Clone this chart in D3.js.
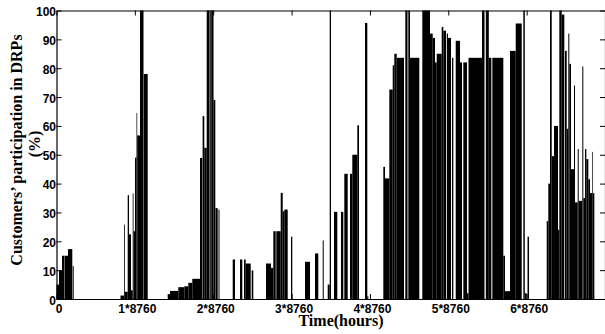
<!DOCTYPE html>
<html>
<head>
<meta charset="utf-8">
<script src="https://cdn.jsdelivr.net/npm/d3@7/dist/d3.min.js"></script>
<style>
  body { margin: 0; background: #fff; }
  svg { display: block; }
</style>
</head>
<body>
<svg id="chart" width="605" height="334"></svg>
<script>
// bars: start hour, end hour, participation (%)
var barStart = [
    0, 280, 615, 883, 1286, 1811,
    7155, 7547, 7636, 7960, 8106, 8329, 8519, 8609, 8776, 8944, 9022, 9335, 9760,
    12432, 12689, 13617, 14288, 14735, 15182, 16043, 16334, 16524, 16792, 17094, 17295, 17553, 17776, 18112,
    19699, 20515, 20963, 21153, 21823,
    23422, 23981, 24238, 24574, 25066, 25289, 25468, 26217, 27782, 28900, 29761, 30320, 30544, 31025, 31807, 32176, 32813, 33070, 33629, 34490, 34747,
    36536, 36726, 37207, 37587, 37766, 38034, 38996, 39331, 39521, 40896, 41757, 42059, 42316, 42506, 43065, 43244, 43636, 43770, 44217, 44631, 45111, 45480, 45894, 46062, 47571, 47996, 48331, 48722, 49952, 50142, 50701, 51339, 52189, 52378, 52658,
    54804, 54983, 55173, 55363, 55621, 56068, 56213, 56481, 56850, 57040, 57219, 57331, 57521, 57856, 57968, 58270, 58382, 58784, 58896, 59087, 59232, 59455, 59645, 59902, 59980
];
var barEnd = [
    280, 615, 839, 1286, 1766, 1923,
    7547, 7636, 7960, 8106, 8329, 8519, 8609, 8776, 8944, 9022, 9335, 9727, 10196,
    12689, 13617, 14288, 14735, 15182, 16043, 16300, 16524, 16792, 17050, 17251, 17553, 17754, 18022, 18223,
    19956, 20772, 21153, 21712, 22002,
    23981, 24238, 24507, 25066, 25289, 25468, 25848, 26362, 28341, 29269, 29873, 30544, 30689, 31393, 32064, 32556, 33070, 33629, 33819, 34747, 34859,
    36726, 37207, 37587, 37766, 38034, 38851, 39242, 39521, 40561, 41757, 42059, 42316, 42506, 43065, 43244, 43546, 43770, 44105, 44362, 45111, 45335, 45894, 46062, 47571, 47850, 48331, 48611, 49952, 50142, 50701, 51339, 52010, 52356, 52568, 52826,
    54983, 55173, 55363, 55621, 56068, 56213, 56481, 56772, 57040, 57219, 57331, 57521, 57856, 57968, 58270, 58382, 58752, 58896, 59087, 59232, 59455, 59645, 59902, 59980, 60126
];
var barValue = [
    5, 10, 15, 15, 17.3, 11.4,
    1.2, 25.8, 2.5, 36, 22.4, 3, 36.6, 23.5, 49, 64.5, 56.7, 100, 78,
    1.7, 2.8, 4.1, 4.4, 5.6, 7, 48.9, 63.4, 52.4, 100, 100, 100, 69, 31.5, 31,
    13.7, 13.7, 13.7, 12.3, 9.9,
    12.3, 10.8, 23.5, 23.5, 36.8, 30.4, 31, 21.6, 12.9, 15.8, 20.3, 5, 100, 30.2, 30.2, 43.4, 43.4, 50, 60.2, 95.7, 1,
    45.8, 41.8, 72.6, 81, 85, 83.6, 100, 100, 83.6, 100, 92, 90.5, 82, 85, 94.3, 93, 92, 90.5, 83.6, 89.5, 82, 82, 2, 83.6, 100, 100, 83.6, 83.6, 15, 2.7, 86, 95.5, 100, 2, 21.6,
    27, 40, 100, 49.5, 60, 24, 100, 98.6, 86, 59, 92, 81.5, 45, 74, 33.5, 52, 34, 80.6, 35, 52, 48.5, 41.5, 36.7, 51, 36.7
];

var xTicks = [0, 8760, 17520, 26280, 35040, 43800, 52560];
var xTickLabels = ["0", "1*8760", "2*8760", "3*8760", "4*8760", "5*8760", "6*8760"];
var yTicks = [0, 10, 20, 30, 40, 50, 60, 70, 80, 90, 100];

var svg = d3.select("#chart");

// plot box (window.top is taken, so plain names are avoided)
var plotLeft = 56.5, plotRight = 605, plotTop = 10.5, plotBottom = 299;

var x = d3.scaleLinear().domain([0, 7 * 8760]).range([plotLeft, plotRight]);
var y = d3.scaleLinear().domain([0, 100]).range([plotBottom, plotTop]);

var bars = barStart.map(function (s, i) {
    return { start: s, end: barEnd[i], value: barValue[i] };
});

svg.append("g")
    .selectAll("rect")
    .data(bars)
    .enter()
    .append("rect")
    .attr("x", function (d) { return x(d.start); })
    .attr("width", function (d) { return x(d.end) - x(d.start); })
    .attr("y", function (d) { return y(d.value); })
    .attr("height", function (d) { return y(0) - y(d.value); })
    .attr("fill", "#000");

// axes, ticks pointing inward
var tickFont = "'Liberation Sans', Arial, sans-serif";

var yLeft = svg.append("g")
    .attr("transform", "translate(" + plotLeft + ",0)")
    .call(d3.axisLeft(y).tickValues(yTicks).tickSizeInner(-5).tickSizeOuter(0).tickPadding(2));
var yRight = svg.append("g")
    .attr("transform", "translate(" + plotRight + ",0)")
    .call(d3.axisRight(y).tickValues(yTicks).tickSizeInner(-5).tickSizeOuter(0).tickFormat(""));
var xBottom = svg.append("g")
    .attr("transform", "translate(0," + plotBottom + ")")
    .call(d3.axisBottom(x).tickValues(xTicks).tickSizeInner(-5).tickSizeOuter(0)
        .tickFormat(function (d, i) { return xTickLabels[i]; }).tickPadding(5));
var xTop = svg.append("g")
    .attr("transform", "translate(0," + plotTop + ")")
    .call(d3.axisTop(x).tickValues(xTicks).tickSizeInner(-5).tickSizeOuter(0).tickFormat(""));

[yLeft, yRight, xBottom, xTop].forEach(function (g) {
    g.select(".domain").attr("stroke", "#000").attr("stroke-width", 1.2);
    g.selectAll(".tick line").attr("stroke", "#000");
    g.selectAll("text")
        .attr("fill", "#000")
        .style("font-family", tickFont)
        .style("font-size", "12px")
        .style("font-weight", "bold");
});
yLeft.selectAll("text").attr("x", -0.5).attr("dy", "0.42em");
xBottom.selectAll("text").attr("dx", 2);

// labels
var labelFont = "'Liberation Serif', 'Times New Roman', serif";

svg.append("text")
    .attr("transform", "translate(22,150) rotate(-90)")
    .attr("text-anchor", "middle")
    .style("font-family", labelFont)
    .style("font-size", "16px")
    .style("font-weight", "bold")
    .text("Customers\u2019 participation in DRPs");

svg.append("text")
    .attr("transform", "translate(40,144) rotate(-90)")
    .attr("text-anchor", "middle")
    .style("font-family", labelFont)
    .style("font-size", "16px")
    .style("font-weight", "bold")
    .text("(%)");

svg.append("text")
    .attr("x", 341)
    .attr("y", 325.5)
    .attr("text-anchor", "middle")
    .style("font-family", labelFont)
    .style("font-size", "16px")
    .style("font-weight", "bold")
    .text("Time(hours)");
</script>
</body>
</html>
